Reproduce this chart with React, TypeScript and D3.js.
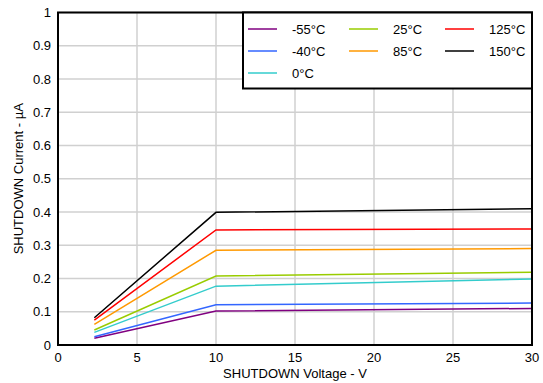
import React from "react";
import * as d3 from "d3";

const voltages = [2.3, 10, 30];
const seriesNames = ["-55°C", "-40°C", "0°C", "25°C", "85°C", "125°C", "150°C"];
const seriesColors = ["#800080", "#3366FF", "#33CCCC", "#99CC00", "#FF9900", "#FF0000", "#000000"];
const currM55 = [0.02, 0.102, 0.11];
const currM40 = [0.025, 0.121, 0.126];
const curr0 = [0.038, 0.177, 0.1985];
const curr25 = [0.045, 0.2075, 0.219];
const curr85 = [0.062, 0.285, 0.29];
const curr125 = [0.075, 0.346, 0.349];
const curr150 = [0.082, 0.399, 0.41];
const seriesValues = [currM55, currM40, curr0, curr25, curr85, curr125, curr150];
const xTicks = [0, 5, 10, 15, 20, 25, 30];
const yTicks = [0, 0.1, 0.2, 0.3, 0.4, 0.5, 0.6, 0.7, 0.8, 0.9, 1];

const W = 543, H = 383;
const left = 58, right = 532, top = 12.5, bottom = 345;

export default function App() {
  const x = d3.scaleLinear().domain([0, 30]).range([left, right]);
  const y = d3.scaleLinear().domain([0, 1]).range([bottom, top]);
  const line = d3.line<number>().x((_, i) => x(voltages[i])).y((d) => y(d));
  const font = "Arial, 'Liberation Sans', sans-serif";
  // legend layout: order by columns
  const legendOrder = [
    { s: 0, col: 0, row: 0 }, { s: 1, col: 0, row: 1 }, { s: 2, col: 0, row: 2 },
    { s: 3, col: 1, row: 0 }, { s: 4, col: 1, row: 1 },
    { s: 5, col: 2, row: 0 }, { s: 6, col: 2, row: 1 },
  ];
  const colX = [248, 349, 445];
  const rowY = [29, 51, 73];
  return (
    <svg width={W} height={H} style={{ position: "absolute", left: 0, top: 0 }} fontFamily={font}>
      <rect x={0} y={0} width={W} height={H} fill="#fff" />
      {xTicks.map((t) => (
        <line key={"gx" + t} x1={x(t)} x2={x(t)} y1={top} y2={bottom} stroke="#D0D0D0" strokeWidth={1.5} />
      ))}
      {yTicks.map((t) => (
        <line key={"gy" + t} x1={left} x2={right} y1={y(t)} y2={y(t)} stroke="#D0D0D0" strokeWidth={1.5} />
      ))}
      {seriesValues.map((vals, i) => (
        <path key={"s" + i} d={line(vals) || ""} fill="none" stroke={seriesColors[i]} strokeWidth={1.5} />
      ))}
      <rect x={left} y={top} width={right - left} height={bottom - top} fill="none" stroke="#000" strokeWidth={2} />
      {yTicks.map((t) => (
        <text key={"ty" + t} x={left - 7} y={y(t) + 4.5} textAnchor="end" fontSize={13} fill="#000">
          {d3.format("~g")(t)}
        </text>
      ))}
      {xTicks.map((t) => (
        <text key={"tx" + t} x={x(t)} y={bottom + 17} textAnchor="middle" fontSize={13} fill="#000">
          {t}
        </text>
      ))}
      <text x={(left + right) / 2} y={378} textAnchor="middle" fontSize={13} fill="#000">
        SHUTDOWN Voltage - V
      </text>
      <text transform={`translate(23, ${(top + bottom) / 2}) rotate(-90)`} textAnchor="middle" fontSize={13} fill="#000">
        SHUTDOWN Current - µA
      </text>
      <rect x={243} y={12.5} width={289} height={76} fill="#fff" stroke="#000" strokeWidth={2} />
      {legendOrder.map(({ s, col, row }) => (
        <g key={"lg" + s}>
          <line x1={colX[col]} x2={colX[col] + 29} y1={rowY[row]} y2={rowY[row]} stroke={seriesColors[s]} strokeWidth={1.5} />
          <text x={colX[col] + 44} y={rowY[row] + 4.5} fontSize={13} fill="#000">{seriesNames[s]}</text>
        </g>
      ))}
    </svg>
  );
}
